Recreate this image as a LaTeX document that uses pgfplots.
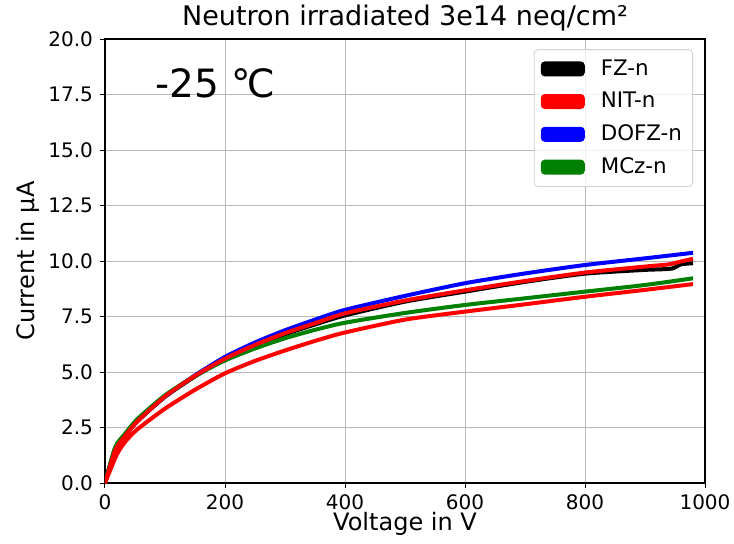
\documentclass[border=0pt]{standalone}
\usepackage{fontspec}
\setmainfont{DejaVu Sans}
\usepackage{pgfplots}
\pgfplotsset{compat=1.18}
\definecolor{mplgreen}{HTML}{008000}

\begin{document}
\begin{tikzpicture}
\path[use as bounding box] (-52.5pt,-30pt) rectangle (314.5pt,241.5pt);
\begin{axis}[
    scale only axis,
    width=300pt, height=222pt,
    xmin=0, xmax=1000, ymin=0, ymax=20,
    xtick={0,200,400,600,800,1000},
    ytick={0,2.5,5,7.5,10,12.5,15,17.5,20},
    /pgf/number format/assume math mode=true,
    xticklabel style={/pgf/number format/1000 sep={}},
    yticklabel style={/pgf/number format/.cd, fixed, fixed zerofill, precision=1},
    tick label style={font=\fontsize{10}{12}\selectfont},
    tick align=outside, tick pos=left,
    major tick length=2.5pt,
    tick style={black, line width=0.5pt},
    axis line style={black, line width=0.6pt},
    grid=major,
    grid style={color=black!28, line width=0.5pt},
    every axis title shift=0pt,
    title={Neutron irradiated 3e14 neq/cm²},
    title style={font=\fontsize{13.5}{15}\selectfont, at={(0.5,1.047)}, anchor=center},
    xlabel={Voltage in V},
    ylabel={Current in µA},
    every axis x label/.style={at={(rel axis cs:0.5,-0.092)}, anchor=center,
        font=\fontsize{12}{14}\selectfont},
    every axis y label/.style={at={(rel axis cs:-0.128,0.5)}, rotate=90, anchor=center,
        font=\fontsize{12}{14}\selectfont},
    legend style={at={(0.98,0.977)}, anchor=north east, draw=black!18,
        rounded corners=2pt, fill=white, fill opacity=0.8, text opacity=1,
        font=\fontsize{10.7}{12}\selectfont, row sep=3pt,
        inner xsep=3.3pt, inner ysep=3pt},
    legend cell align=left,
    legend image code/.code={
        \fill[draw=none, fill opacity=1] (0pt,-3.75pt) rectangle (22pt,3.75pt);
        \path[draw=none] (0pt,0pt) -- (28pt,0pt);},
    every axis plot/.append style={line width=2pt, smooth, tension=0.4},
]
% legend in the reference order
\addlegendimage{color=black}
\addlegendentry{FZ-n}
\addlegendimage{color=red}
\addlegendentry{NIT-n}
\addlegendimage{color=blue}
\addlegendentry{DOFZ-n}
\addlegendimage{color=mplgreen}
\addlegendentry{MCz-n}

% FZ-n
\addplot[black, forget plot] coordinates {
    (0,0) (17,1.5) (32,2.07) (54,2.78) (100,3.88) (150,4.8) (200,5.58)
    (250,6.18) (300,6.7) (350,7.14) (400,7.55) (500,8.17) (600,8.62)
    (700,9.06) (800,9.43) (900,9.6) (920,9.62) (945,9.66) (960,9.85) (980,9.9)
};
% DOFZ-n
\addplot[blue, forget plot] coordinates {
    (0,0) (17,1.55) (32,2.1) (54,2.8) (100,3.9) (150,4.85) (200,5.68)
    (250,6.33) (300,6.88) (350,7.36) (400,7.8) (500,8.43) (600,9.0)
    (700,9.44) (800,9.82) (900,10.12) (980,10.37)
};
% MCz-n
\addplot[mplgreen, forget plot] coordinates {
    (0,0) (17,1.62) (32,2.17) (54,2.88) (100,3.95) (150,4.82) (200,5.52)
    (250,6.06) (300,6.52) (350,6.9) (400,7.22) (500,7.66) (600,8.02)
    (700,8.32) (800,8.62) (900,8.92) (980,9.22)
};
% NIT-n (two diodes)
\addplot[red, forget plot] coordinates {
    (0,0) (17,1.48) (32,2.07) (54,2.78) (100,3.9) (150,4.83) (200,5.6)
    (250,6.22) (300,6.75) (350,7.2) (400,7.64) (500,8.22) (600,8.68)
    (700,9.1) (800,9.48) (900,9.75) (940,9.85) (960,9.98) (980,10.1)
};
\addplot[red, forget plot] coordinates {
    (0,0) (20,1.3) (35,1.9) (54,2.42) (100,3.35) (150,4.2) (200,4.94)
    (250,5.5) (300,5.97) (350,6.4) (400,6.78) (500,7.36) (600,7.72)
    (700,8.05) (800,8.39) (900,8.7) (980,8.96)
};

\node[font=\fontsize{19.5}{22}\selectfont] at (axis cs:184,18.0) {-25 ℃};
\end{axis}
\end{tikzpicture}
\end{document}
